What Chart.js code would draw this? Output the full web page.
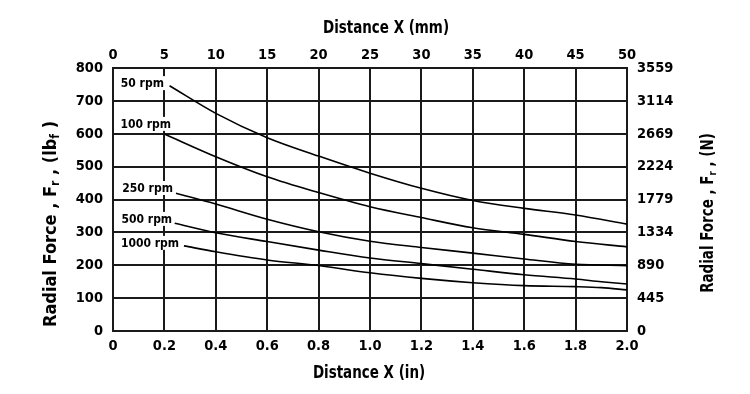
<!DOCTYPE html>
<html>
<head>
<meta charset="utf-8">
<script src="https://cdn.jsdelivr.net/npm/chart.js@4.4.1/dist/chart.umd.min.js"></script>
<style>
  html, body { margin: 0; padding: 0; background: #fff; }
  #wrap { width: 750px; height: 394px; }
</style>
</head>
<body>
<div id="wrap"><canvas id="forceChart" width="750" height="394"></canvas></div>
<script>
// Radial force vs distance, one curve per speed
const rpmLabels = ['50 rpm', '100 rpm', '250 rpm', '500 rpm', '1000 rpm'];

const x50 = [0.22, 0.4, 0.6, 0.8, 1.0, 1.2, 1.4, 1.6, 1.8, 2.0];
const f50 = [746, 662, 588, 532, 480, 434, 397, 373, 353, 325];

const x100 = [0.2, 0.4, 0.6, 0.8, 1.0, 1.2, 1.4, 1.6, 1.8, 2.0];
const f100 = [599, 530, 469, 421, 378, 345, 314, 294, 272, 256];

const x250 = [0.245, 0.4, 0.6, 0.8, 1.0, 1.2, 1.4, 1.6, 1.8, 2.0];
const f250 = [419, 386, 340, 302, 273, 254, 237, 219, 203, 199];

const x500 = [0.24, 0.4, 0.6, 0.8, 1.0, 1.2, 1.4, 1.6, 1.8, 1.9, 2.0];
const f500 = [328, 299, 272, 246, 222, 205, 188, 171, 158, 150, 143];

const x1000 = [0.276, 0.4, 0.6, 0.8, 1.0, 1.2, 1.4, 1.6, 1.8, 1.9, 2.0];
const f1000 = [259, 241, 216, 199, 177, 160, 147, 138, 135, 132, 125];

// tick labels
const inchTicks = ['0', '0.2', '0.4', '0.6', '0.8', '1.0', '1.2', '1.4', '1.6', '1.8', '2.0'];
const mmTicks = ['0', '5', '10', '15', '20', '25', '30', '35', '40', '45', '50'];
const lbfTicks = ['0', '100', '200', '300', '400', '500', '600', '700', '800'];
const newtonTicks = ['0', '445', '890', '1334', '1779', '2224', '2669', '3114', '3559'];

const FONT = "'DejaVu Sans Condensed', 'Liberation Sans Narrow', sans-serif";
const GRID = '#1a1a1a';

function toPoints(xs, ys) {
    return xs.map((x, i) => ({ x: x, y: ys[i] }));
}

const seriesX = [x50, x100, x250, x500, x1000];
const seriesF = [f50, f100, f250, f500, f1000];

const datasets = rpmLabels.map((name, i) => ({
    label: name,
    data: toPoints(seriesX[i], seriesF[i]),
    borderColor: '#000',
    borderWidth: 1.6,
    pointRadius: 0,
    showLine: true,
    fill: false,
    cubicInterpolationMode: 'monotone'
}));

// where each rpm label sits: right edge (in) and middle (lbf)
const rpmLabelAt = [[0.198, 754], [0.226, 630], [0.233, 435], [0.23, 341], [0.257, 268]];

const labelsPlugin = {
    id: 'labelsPlugin',
    beforeDatasetsDraw(chart) {
        const ctx = chart.ctx;
        const xs = chart.scales.x;
        const ys = chart.scales.y;
        ctx.save();
        ctx.font = 'bold 12px ' + FONT;
        ctx.textBaseline = 'middle';
        ctx.textAlign = 'right';
        rpmLabels.forEach((txt, i) => {
            const px = xs.getPixelForValue(rpmLabelAt[i][0]);
            const py = ys.getPixelForValue(rpmLabelAt[i][1]);
            const w = ctx.measureText(txt).width;
            ctx.fillStyle = '#fff';
            ctx.fillRect(px - w - 2, py - 7, w + 4, 14);
            ctx.fillStyle = '#000';
            ctx.fillText(txt, px, py + 1);
        });
        ctx.restore();
    },
    afterDraw(chart) {
        const ctx = chart.ctx;
        drawTitle(ctx, 386, 27, 0, 17, 0.88, ['Distance X (mm)']);
        drawTitle(ctx, 369, 372, 0, 17, 0.88, ['Distance X (in)']);
        drawTitle(ctx, 50, 224, -Math.PI / 2, 18, 1, ['Radial Force , F', 'r', ' , (lb', 'f', ' )']);
        drawTitle(ctx, 707, 213, -Math.PI / 2, 17, 0.88, ['Radial Force , F', 'r', ' , (N)']);
    }
};

// centred title, odd parts are subscripts
function drawTitle(ctx, cx, cy, angle, size, squeeze, parts) {
    const big = 'bold ' + size + 'px ' + FONT;
    const small = 'bold ' + Math.round(size * 0.65) + 'px ' + FONT;
    let total = 0;
    parts.forEach((p, i) => {
        ctx.font = i % 2 ? small : big;
        total += ctx.measureText(p).width;
    });
    ctx.save();
    ctx.fillStyle = '#000';
    ctx.translate(cx, cy);
    ctx.rotate(angle);
    ctx.scale(squeeze, 1);
    ctx.textAlign = 'left';
    ctx.textBaseline = 'alphabetic';
    let pos = -total / 2;
    parts.forEach((p, i) => {
        ctx.font = i % 2 ? small : big;
        ctx.fillText(p, pos, i % 2 ? 9 : 6);
        pos += ctx.measureText(p).width;
    });
    ctx.restore();
}

const tickFont = { family: FONT, size: 14.5, weight: 'bold' };

new Chart(document.getElementById('forceChart'), {
    type: 'scatter',
    data: { datasets: datasets },
    options: {
        responsive: false,
        animation: false,
        devicePixelRatio: 1,
        layout: { padding: 0 },
        plugins: {
            legend: { display: false },
            tooltip: { enabled: false }
        },
        scales: {
            x: {
                type: 'linear',
                position: 'bottom',
                min: 0, max: 2,
                afterFit: s => { s.height = 63; },
                ticks: { stepSize: 0.2, color: '#000', font: tickFont, padding: 7, maxRotation: 0,
                    callback: (v, i) => inchTicks[i] },
                grid: { color: GRID, lineWidth: 2, drawTicks: false },
                border: { color: GRID, width: 2 }
            },
            x2: {
                type: 'linear',
                position: 'top',
                min: 0, max: 50,
                afterFit: s => { s.height = 68; },
                ticks: { stepSize: 5, color: '#000', font: tickFont, padding: 4, maxRotation: 0,
                    callback: (v, i) => mmTicks[i] },
                grid: { display: false, drawTicks: false },
                border: { color: GRID, width: 2 }
            },
            y: {
                type: 'linear',
                position: 'left',
                min: 0, max: 800,
                afterFit: s => { s.width = 113; },
                ticks: { stepSize: 100, color: '#000', font: tickFont, padding: 10,
                    callback: (v, i) => lbfTicks[i] },
                grid: { color: GRID, lineWidth: 2, drawTicks: false },
                border: { color: GRID, width: 2 }
            },
            y2: {
                type: 'linear',
                position: 'right',
                min: 0, max: 800,
                afterFit: s => { s.width = 123; },
                ticks: { stepSize: 100, color: '#000', font: tickFont, padding: 10,
                    callback: (v, i) => newtonTicks[i] },
                grid: { display: false, drawTicks: false },
                border: { color: GRID, width: 2 }
            }
        }
    },
    plugins: [labelsPlugin]
});
</script>
</body>
</html>
